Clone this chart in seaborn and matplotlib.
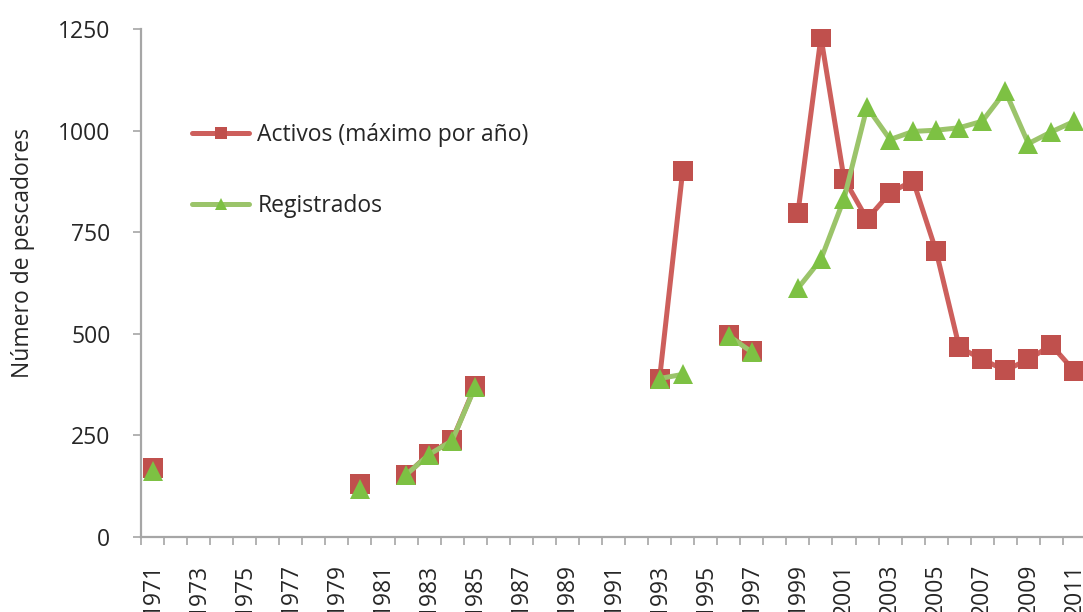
import numpy as np
import pandas as pd
import matplotlib
matplotlib.use("Agg")
import matplotlib.pyplot as plt
import seaborn as sns
from matplotlib.lines import Line2D

activos_years = [1971, 1980, 1982, 1983, 1984, 1985, 1993, 1994, 1996, 1997,
                 1999, 2000, 2001, 2002, 2003, 2004, 2005, 2006, 2007, 2008, 2009, 2010, 2011]
activos = [170, 130, 152, 205, 238, 372, 390, 900, 497, 457,
           797, 1230, 882, 782, 847, 877, 703, 467, 437, 410, 437, 472, 408]
registrados_years = activos_years
registrados = [162, 118, 153, 203, 237, 370, 390, 400, 495, 455,
               612, 683, 832, 1058, 978, 998, 1001, 1007, 1023, 1097, 968, 997, 1023]
xtick_labels = [str(y) for y in range(1971, 2012, 2)]
series_names = ["Activos (máximo por año)", "Registrados"]

def segments(yrs, vals):
    seg = []
    s = 0
    for i, y in enumerate(yrs):
        if i > 0 and y - yrs[i - 1] > 1:
            s += 1
        seg.append(s)
    return pd.DataFrame({"year": yrs, "value": vals, "seg": seg})

df_a = segments(activos_years, activos)
df_r = segments(registrados_years, registrados)

sns.set_style("white")
plt.rcParams["font.family"] = ["Open Sans", "DejaVu Sans"]
FS = 16.5

fig = plt.figure(figsize=(10.83, 6.12), dpi=100)
ax = fig.add_axes([141 / 1083, 75 / 612, 945 / 1083, 508 / 612])

red_line = "#CD5F5C"
red_mark = "#C0504D"
green_line = "#9BC46A"
green_mark = "#7DC143"

sns.lineplot(data=df_a, x="year", y="value", units="seg", estimator=None,
             color=red_line, lw=3.6, marker="s", markersize=14,
             markerfacecolor=red_mark, markeredgewidth=0, ax=ax, legend=False)
sns.lineplot(data=df_r, x="year", y="value", units="seg", estimator=None,
             color=green_line, lw=3.6, marker="^", markersize=14,
             markerfacecolor=green_mark, markeredgewidth=0, ax=ax, legend=False)

ax.set_xlim(1970.5, 2011.5)
ax.set_ylim(0, 1250)
ax.set_yticks([0, 250, 500, 750, 1000, 1250])
ax.set_xticks(list(range(1971, 2012, 2)))
ax.set_xticklabels(xtick_labels, rotation=90)
ax.set_xticks(np.arange(1970.5, 2012, 1), minor=True)
ax.tick_params(axis="x", which="major", length=0, pad=19, labelsize=FS)
ax.tick_params(axis="x", which="minor", length=6, width=1.2, color="#A6A6A6", direction="out", bottom=True)
ax.tick_params(axis="y", which="major", length=6, width=1.2, color="#A6A6A6", direction="out", left=True, pad=16, labelsize=FS)

for side in ["top", "right"]:
    ax.spines[side].set_visible(False)
for side in ["left", "bottom"]:
    ax.spines[side].set_color("#A6A6A6")
    ax.spines[side].set_linewidth(1.6)

ax.set_xlabel("")
ax.set_ylabel("Número de pescadores", fontsize=FS)
ax.yaxis.set_label_coords(-0.112, 0.559)

handles = [
    Line2D([], [], color=red_line, lw=3.6, marker="s", markersize=9, markerfacecolor=red_mark, markeredgewidth=0),
    Line2D([], [], color=green_line, lw=3.6, marker="^", markersize=9, markerfacecolor=green_mark, markeredgewidth=0),
]
ax.legend(handles, series_names, loc="upper left", bbox_to_anchor=(0.054, 0.815),
          frameon=False, fontsize=FS, handlelength=2.5, handletextpad=0.35,
          labelspacing=2.05, borderpad=0, borderaxespad=0)

fig.savefig("out.png", dpi=100)
